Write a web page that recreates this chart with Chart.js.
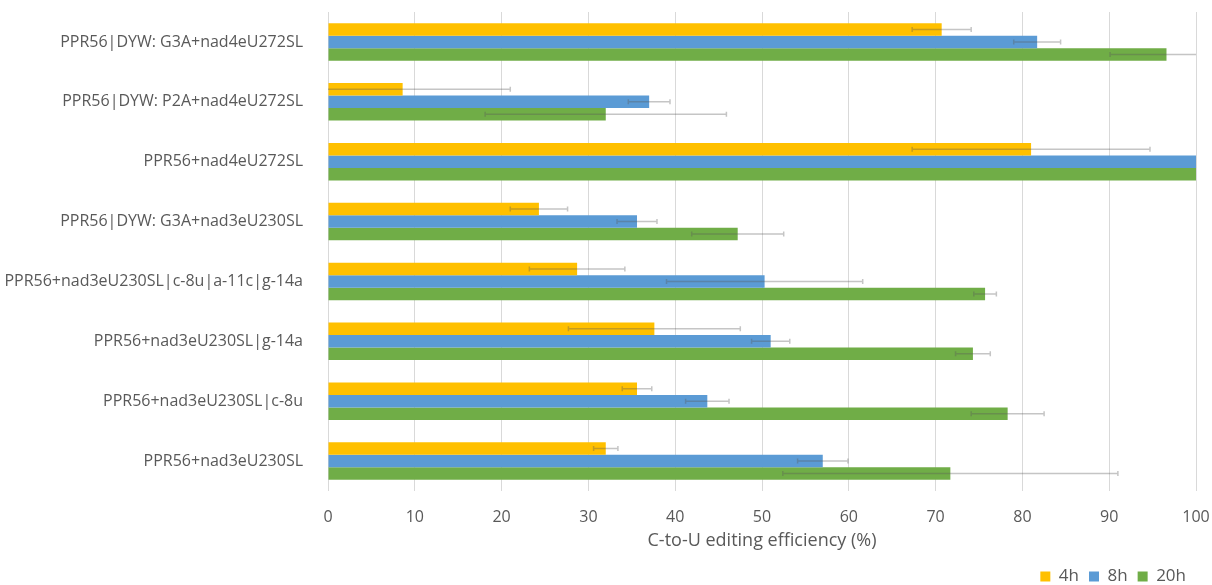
<!DOCTYPE html>
<html>
<head>
<meta charset="utf-8">
<script src="https://cdn.jsdelivr.net/npm/chart.js@4.4.1/dist/chart.umd.min.js"></script>
<style>
  html, body { margin: 0; padding: 0; background: #fff; }
  #wrap { width: 1212px; height: 585px; }
</style>
</head>
<body>
<div id="wrap"><canvas id="editing"></canvas></div>
<script>
const constructs = [
    "PPR56|DYW: G3A+nad4eU272SL",
    "PPR56|DYW: P2A+nad4eU272SL",
    "PPR56+nad4eU272SL",
    "PPR56|DYW: G3A+nad3eU230SL",
    "PPR56+nad3eU230SL|c-8u|a-11c|g-14a",
    "PPR56+nad3eU230SL|g-14a",
    "PPR56+nad3eU230SL|c-8u",
    "PPR56+nad3eU230SL"
];
const timepoints = ["4h", "8h", "20h"];

const eff4h = [70.7, 8.6, 81.0, 24.3, 28.7, 37.6, 35.6, 32.0];
const eff8h = [81.7, 37.0, 100, 35.6, 50.3, 51.0, 43.7, 57.0];
const eff20h = [96.6, 32.0, 100, 47.2, 75.7, 74.3, 78.3, 71.7];

const err4h = [3.4, 12.4, 13.7, 3.3, 5.5, 9.9, 1.7, 1.4];
const err8h = [2.7, 2.4, 0, 2.3, 11.3, 2.2, 2.5, 2.9];
const err20h = [6.5, 13.9, 0, 5.3, 1.3, 2.0, 4.2, 19.3];

const xTicks = [0, 10, 20, 30, 40, 50, 60, 70, 80, 90, 100];

const grey = "#595959";
const fontFam = "'Open Sans', sans-serif";

// error bars drawn from the x scale
const errorBars = {
    id: 'errorBars',
    afterDatasetsDraw(chart) {
        const ctx = chart.ctx;
        const x = chart.scales.x;
        const area = chart.chartArea;
        ctx.save();
        ctx.beginPath();
        ctx.rect(area.left, area.top, area.right - area.left, area.bottom - area.top);
        ctx.clip();
        ctx.strokeStyle = "rgba(90,90,90,0.35)";
        ctx.lineWidth = 1.5;
        chart.data.datasets.forEach((ds, i) => {
            const meta = chart.getDatasetMeta(i);
            meta.data.forEach((bar, j) => {
                const e = ds.errors[j];
                if (!e) return;
                const lo = x.getPixelForValue(ds.data[j] - e);
                const hi = x.getPixelForValue(ds.data[j] + e);
                const y = bar.y;
                ctx.beginPath();
                ctx.moveTo(lo, y);
                ctx.lineTo(hi, y);
                ctx.moveTo(lo, y - 2.5);
                ctx.lineTo(lo, y + 2.5);
                ctx.moveTo(hi, y - 2.5);
                ctx.lineTo(hi, y + 2.5);
                ctx.stroke();
            });
        });
        ctx.restore();
    }
};

const ctx = document.querySelector('#editing').getContext('2d');
new Chart(ctx, {
    type: 'bar',
    data: {
        labels: constructs,
        datasets: [
            { label: timepoints[0], data: eff4h, errors: err4h, backgroundColor: "#FFC000" },
            { label: timepoints[1], data: eff8h, errors: err8h, backgroundColor: "#5B9BD5" },
            { label: timepoints[2], data: eff20h, errors: err20h, backgroundColor: "#70AD47" }
        ]
    },
    plugins: [errorBars],
    options: {
        indexAxis: 'y',
        responsive: true,
        maintainAspectRatio: false,
        animation: false,
        datasets: {
            bar: {
                categoryPercentage: 0.625,
                barPercentage: 1.0
            }
        },
        layout: {
            padding: { top: 12, right: 16, bottom: -10, left: 0 }
        },
        plugins: {
            legend: {
                position: 'bottom',
                align: 'end',
                labels: {
                    boxWidth: 10,
                    boxHeight: 10,
                    padding: 10,
                    color: grey,
                    font: { family: fontFam, size: 17 }
                }
            },
            tooltip: { enabled: false }
        },
        scales: {
            x: {
                min: 0,
                max: 100,
                afterBuildTicks: (scale) => {
                    scale.ticks = xTicks.map(v => ({ value: v }));
                },
                afterFit: (scale) => {
                    scale.height = 67;
                    scale.paddingLeft = 0;
                    scale.paddingRight = 0;
                },
                grid: {
                    color: "#D9D9D9",
                    drawTicks: false
                },
                border: { display: false },
                ticks: {
                    color: grey,
                    padding: 17,
                    font: { family: fontFam, size: 16 }
                },
                title: {
                    display: true,
                    text: "C-to-U editing efficiency (%)",
                    color: grey,
                    padding: { top: 0, bottom: 6 },
                    font: { family: fontFam, size: 18 }
                }
            },
            y: {
                afterFit: (scale) => {
                    scale.width = 328;
                    scale.paddingTop = 0;
                    scale.paddingBottom = 0;
                },
                grid: { display: false },
                border: { display: false },
                ticks: {
                    color: grey,
                    padding: 17,
                    font: { family: fontFam, size: 16 }
                }
            }
        }
    }
});
</script>
</body>
</html>
